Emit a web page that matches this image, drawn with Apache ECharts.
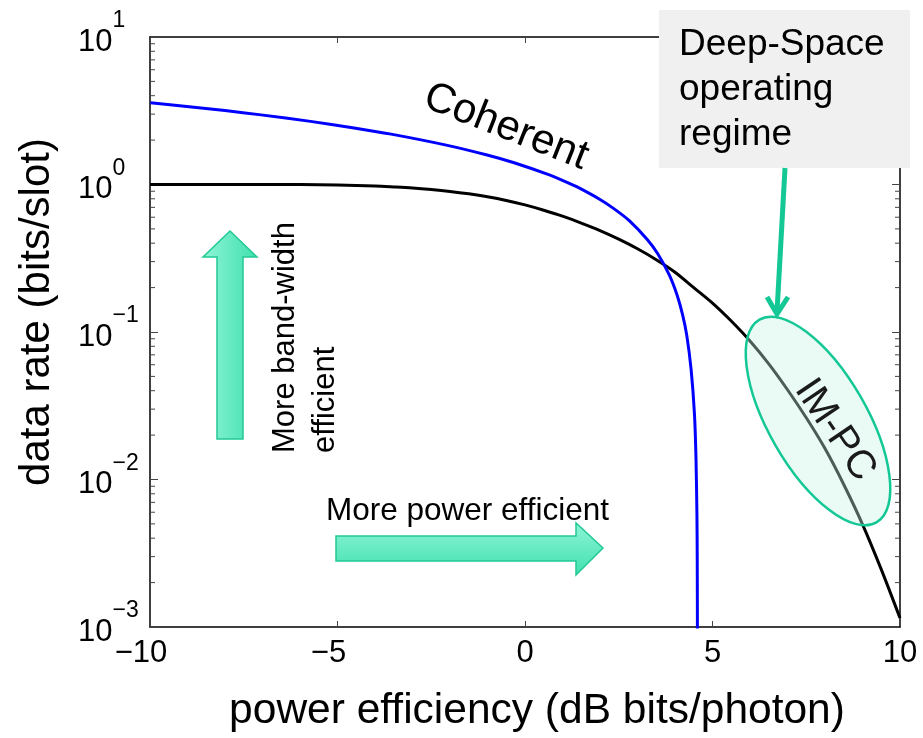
<!DOCTYPE html>
<html>
<head>
<meta charset="utf-8">
<script src="https://cdn.jsdelivr.net/npm/echarts@6/dist/echarts.min.js"></script>
<style>
  html, body { margin: 0; padding: 0; background: #fff; }
  #chart { width: 923px; height: 738px; }
</style>
</head>
<body>
<div id="chart"></div>
<script>
// Tick positions
const xTicks = [-10, -5, 0, 5, 10];
const yTickExponents = [-3, -2, -1, 0, 1];

// IM-PC (intensity modulation, photon counting) curve: power efficiency (dB bits/photon) vs rate (bits/slot)
const impcEff = [-10, -9, -8, -7, -6, -5, -4, -3.5, -3, -2.5, -2, -1.5, -1, -0.5, 0, 0.5, 1, 1.5, 2, 2.5, 3, 3.5, 4, 4.5, 5, 5.5, 6, 6.5, 7, 7.5, 8, 8.5, 9, 9.5, 10];
const impcRate = [1.0, 1.0, 1.0, 1.0, 0.999, 0.992, 0.977, 0.963, 0.947, 0.925, 0.898, 0.865, 0.826, 0.780, 0.727, 0.669, 0.610, 0.548, 0.487, 0.426, 0.3665, 0.309, 0.2542, 0.1999, 0.1571, 0.1187, 0.0869, 0.0608, 0.0406, 0.0262, 0.0162, 0.00925, 0.00497, 0.00246, 0.00115];

// Coherent curve
const cohEff = [-9.99, -9.02, -8.0, -7.04, -5.72, -4.60, -3.57, -2.10, -1.01, -0.29, 0.65, 1.12, 1.39, 2.00, 2.36, 2.78, 3.26, 3.54, 3.85, 4.055, 4.20, 4.315, 4.43, 4.517, 4.559, 4.585, 4.593, 4.598];
const cohRate = [3.586, 3.384, 3.170, 2.965, 2.679, 2.429, 2.196, 1.850, 1.585, 1.404, 1.161, 1.035, 0.963, 0.792, 0.689, 0.569, 0.424, 0.339, 0.2427, 0.1781, 0.1315, 0.0945, 0.0555, 0.0283, 0.01428, 0.00575, 0.00288, 0.00087];

const FONT = "'Liberation Sans', Arial, Helvetica, sans-serif";
const GREEN = '#14c896';

// minor log ticks (2..9 within each decade)
const minorTicks = [];
for (let k = yTickExponents[0]; k < yTickExponents[yTickExponents.length - 1]; k++) {
  for (let m = 2; m <= 9; m++) minorTicks.push(m * Math.pow(10, k));
}

const chart = echarts.init(document.getElementById('chart'), null, { renderer: 'canvas' });

const axisLineStyle = { color: '#000', width: 1.5 };
const tickStyle = { color: '#444', width: 1 };

const option = {
  animation: false,
  backgroundColor: '#fff',
  grid: { left: 150, top: 37, width: 750, height: 592, containLabel: false },
  xAxis: [{
    type: 'value', min: -10, max: 10, interval: 5, position: 'bottom',
    axisLine: { show: true, onZero: false, lineStyle: axisLineStyle },
    axisTick: { show: true, inside: true, length: 6, lineStyle: tickStyle },
    splitLine: { show: false },
    axisLabel: {
      margin: 11, color: '#000', fontFamily: FONT, fontSize: 31,
      formatter: v => {
        const t = xTicks.find(x => x === v);
        if (t === undefined) return '';
        return t < 0 ? '{m|−}' + (-t) + '{p|}' : String(t);
      },
      rich: { m: { fontSize: 31, fontFamily: FONT, color: '#000' }, p: { width: 18 } }
    },
    name: 'power efficiency (dB bits/photon)', nameLocation: 'middle', nameGap: 63,
    nameTextStyle: { fontSize: 42.5, fontFamily: FONT, color: '#000', padding: [0, 0, 0, 24] }
  }, {
    type: 'value', min: -10, max: 10, interval: 5, position: 'top',
    axisLine: { show: true, onZero: false, lineStyle: axisLineStyle },
    axisTick: { show: true, inside: true, length: 6, lineStyle: tickStyle },
    axisLabel: { show: false }, splitLine: { show: false }
  }],
  yAxis: [{
    type: 'log', logBase: 10, min: 0.001, max: 10, position: 'left',
    axisLine: { show: true, onZero: false, lineStyle: axisLineStyle },
    axisTick: { show: true, inside: true, length: 8, lineStyle: tickStyle },
    splitLine: { show: false },
    axisLabel: {
      align: 'left', margin: 72, padding: [0, 0, 7, 0],
      formatter: v => {
        const e = Math.round(Math.log10(v));
        if (!yTickExponents.includes(e)) return '';
        return '{b|10}{e|' + (e < 0 ? '−' + (-e) : e) + '}';
      },
      rich: {
        b: { fontSize: 31, fontFamily: FONT, color: '#000', lineHeight: 48, verticalAlign: 'bottom' },
        e: { fontSize: 23, fontFamily: FONT, color: '#000', lineHeight: 24, verticalAlign: 'top' }
      }
    },
    name: 'data rate (bits/slot)', nameLocation: 'middle', nameGap: 92, nameRotate: 90,
    nameTextStyle: { fontSize: 42, fontFamily: FONT, color: '#000', padding: [0, 0, 0, 40] }
  }, {
    type: 'log', logBase: 10, min: 0.001, max: 10, position: 'right',
    axisLine: { show: true, onZero: false, lineStyle: axisLineStyle },
    axisTick: { show: true, inside: true, length: 8, lineStyle: tickStyle },
    axisLabel: { show: false }, splitLine: { show: false }
  }],
  series: [{
    name: 'IM-PC', type: 'line', xAxisIndex: 0, yAxisIndex: 0,
    data: impcEff.map((x, i) => [x, impcRate[i]]),
    showSymbol: false, smooth: 0.3, clip: true,
    lineStyle: { color: '#000', width: 3 }, z: 3
  }, {
    name: 'Coherent', type: 'line', xAxisIndex: 0, yAxisIndex: 0,
    data: cohEff.map((x, i) => [x, cohRate[i]]),
    showSymbol: false, smooth: 0.25, clip: true,
    lineStyle: { color: '#0000ff', width: 3 }, z: 3
  }, {
    type: 'custom', xAxisIndex: 0, yAxisIndex: 0, silent: true,
    data: minorTicks.map(v => [-10, v]),
    renderItem: (params, api) => {
      const v = api.value(1);
      const p = api.coord([-10, v]);
      const q = api.coord([10, v]);
      return {
        type: 'group', children: [
          { type: 'line', shape: { x1: p[0], y1: p[1], x2: p[0] + 5, y2: p[1] }, style: { stroke: '#444', lineWidth: 1 } },
          { type: 'line', shape: { x1: q[0] - 5, y1: q[1], x2: q[0], y2: q[1] }, style: { stroke: '#444', lineWidth: 1 } }
        ]
      };
    }
  }],
  graphic: [
    // bandwidth-efficiency arrow
    {
      type: 'polygon', z: 20,
      shape: { points: [[217, 439], [243, 439], [243, 257], [257, 257], [230, 231], [203, 257], [217, 257]] },
      style: {
        fill: { type: 'linear', x: 0, y: 0, x2: 1, y2: 0, colorStops: [{ offset: 0, color: '#8ff5d6' }, { offset: 1, color: '#3fe0ad' }] },
        stroke: '#22c995', lineWidth: 1.5
      }
    },
    {
      type: 'text', z: 20, x: 265, y: 453, rotation: Math.PI / 2,
      style: { text: 'More band-width\nefficient', font: '31px ' + FONT, fill: '#000', align: 'left', verticalAlign: 'top', lineHeight: 40 }
    },
    // power-efficiency arrow
    {
      type: 'polygon', z: 20,
      shape: { points: [[336, 536], [576, 536], [576, 523], [603, 548], [576, 575], [576, 561], [336, 561]] },
      style: {
        fill: { type: 'linear', x: 0, y: 0, x2: 0, y2: 1, colorStops: [{ offset: 0, color: '#8ff5d6' }, { offset: 1, color: '#3fe0ad' }] },
        stroke: '#22c995', lineWidth: 1.5
      }
    },
    {
      type: 'text', z: 20, x: 326, y: 511,
      style: { text: 'More power efficient', font: '31.5px ' + FONT, fill: '#000', align: 'left', verticalAlign: 'middle' }
    },
    // curve label
    {
      type: 'text', z: 20, x: 506, y: 127, rotation: -0.377,
      style: { text: 'Coherent', font: '42px ' + FONT, fill: '#000', align: 'center', verticalAlign: 'middle' }
    },
    // IM-PC operating region
    {
      type: 'ellipse', z: 20, x: 818, y: 421, rotation: 0.5236,
      shape: { cx: 0, cy: 0, rx: 49, ry: 117 },
      style: { fill: 'rgba(200,245,228,0.38)', stroke: GREEN, lineWidth: 2.5 }
    },
    {
      type: 'text', z: 21, x: 835, y: 430, rotation: -0.977,
      style: { text: 'IM-PC', font: '40px ' + FONT, fill: '#1a1a1a', align: 'center', verticalAlign: 'middle' }
    },
    // note box
    {
      type: 'rect', z: 30, shape: { x: 659, y: 10, width: 251, height: 158 },
      style: { fill: '#f0f0f0' }
    },
    {
      type: 'text', z: 31, x: 679, y: 22,
      style: { text: 'Deep-Space\noperating\nregime', font: '37px ' + FONT, fill: '#000', align: 'left', verticalAlign: 'top', lineHeight: 45 }
    },
    {
      type: 'line', z: 30, shape: { x1: 785, y1: 168, x2: 777, y2: 312 },
      style: { stroke: GREEN, lineWidth: 5 }
    },
    {
      type: 'polyline', z: 30, shape: { points: [[767, 297], [777, 314], [788, 297]] },
      style: { stroke: GREEN, lineWidth: 5, fill: null, lineJoin: 'miter' }
    }
  ]
};

chart.setOption(option);
</script>
</body>
</html>
